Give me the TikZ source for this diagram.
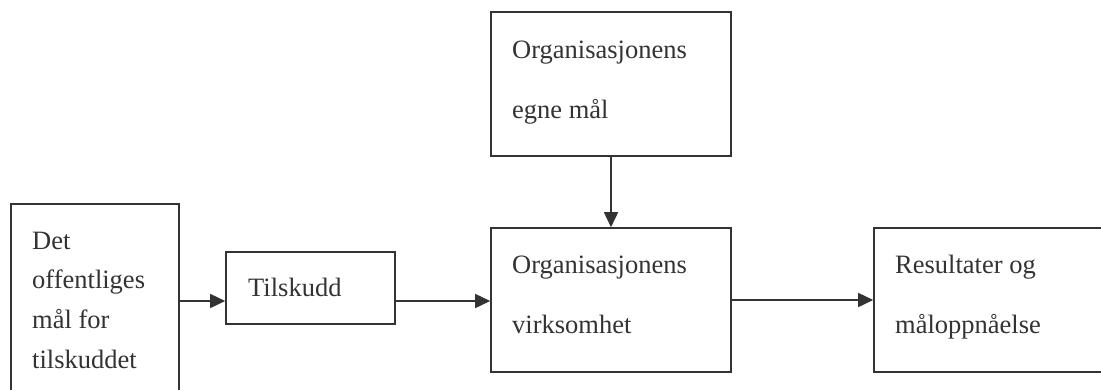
\documentclass[tikz,border=0pt]{standalone}
\usepackage{fontspec}
\setmainfont{Liberation Serif}
\usetikzlibrary{arrows.meta}
\definecolor{ink}{HTML}{333333}
\tikzset{
  box/.style={draw=ink, line width=1.6pt, rectangle, inner sep=0pt},
  lbl/.style={anchor=base west, inner sep=0pt, text=ink, font=\fontsize{26.5}{30}\selectfont},
  arr/.style={draw=ink, line width=1.6pt, -{Triangle[length=15pt,width=14pt]}}
}
\begin{document}
\begin{tikzpicture}[x=1pt,y=-1pt]
\clip (0,0) rectangle (1101,389);
\fill[white] (0,0) rectangle (1101,389);
% boxes
\node[box, minimum width=168pt, minimum height=192pt] (b1) at (95,300) {};
\node[box, minimum width=169pt, minimum height=72pt] (b2) at (310.5,288) {};
\node[box, minimum width=240pt, minimum height=144pt] (b3) at (611,84) {};
\node[box, minimum width=240pt, minimum height=144pt] (b4) at (611,300) {};
\node[box, minimum width=236pt, minimum height=144pt] (b5) at (992,300) {};
% texts
\node[lbl] (t1a) at (32,249) {Det};
\node[lbl] (t1b) at (32,288) {offentliges};
\node[lbl] (t1c) at (32,328) {mål for};
\node[lbl] (t1d) at (32,368) {tilskuddet};
\node[lbl] (t2) at (248,296) {Tilskudd};
\node[lbl] (t3a) at (512,58) {Organisasjonens};
\node[lbl] (t3b) at (512,118) {egne mål};
\node[lbl] (t4a) at (512,273) {Organisasjonens};
\node[lbl] (t4b) at (512,333) {virksomhet};
\node[lbl] (t5a) at (895,273) {Resultater og};
\node[lbl] (t5b) at (895,333) {måloppnåelse};
% connectors
\coordinate (row) at (0,301);
\draw[arr] (b1.east |- row) -- (b2.west |- row);
\draw[arr] (b2.east |- row) -- (b4.west |- row);
\draw[arr] (b3.south) -- (b4.north);
\draw[arr] (b4.east) -- (b5.west);
\end{tikzpicture}
\end{document}
